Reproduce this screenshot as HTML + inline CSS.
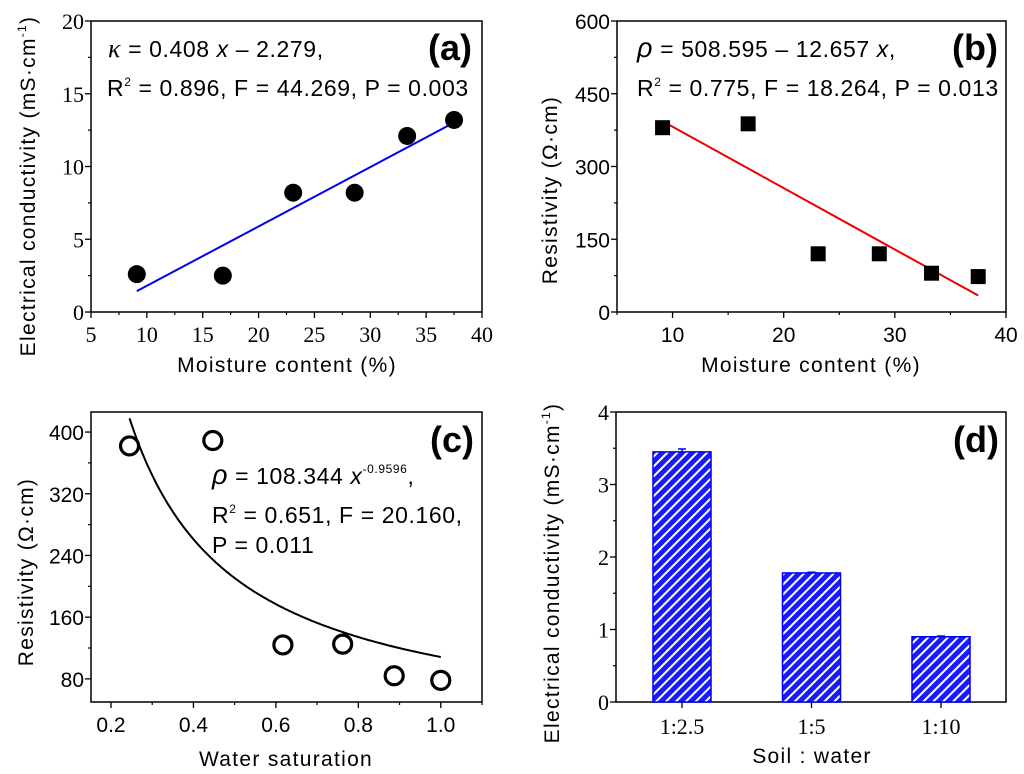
<!DOCTYPE html>
<html><head><meta charset="utf-8"><style>
body{margin:0;background:#fff;}
svg{display:block;}
text{font-family:"Liberation Sans",sans-serif;fill:#000;}
.tk{font-family:"Liberation Serif",serif;font-size:22px;}
.tks{font-family:"Liberation Sans",sans-serif;font-size:21px;}
.ttl{font-size:21px;letter-spacing:1.3px;}
.ann{font-size:23px;letter-spacing:0.6px;}
.lab{font-size:36px;font-weight:bold;}
</style></head><body>
<svg id="chart" width="1024" height="774" viewBox="0 0 1024 774" xmlns="http://www.w3.org/2000/svg">
<defs>
<pattern id="hatch" patternUnits="userSpaceOnUse" width="7" height="7" patternTransform="rotate(45)">
<rect width="7" height="7" fill="#1a1aff"/>
<rect x="0" y="0" width="2" height="7" fill="#fff"/>
</pattern>
</defs>
</svg>
<script>
// Panel (a)
const aMoisture = [9.1, 16.8, 23.1, 28.6, 33.3, 37.5];
const aConductivity = [2.6, 2.5, 8.2, 8.2, 12.1, 13.2];
const aSlope = 0.408, aIntercept = -2.279;
const aXTicks = [5,10,15,20,25,30,35,40];
const aYTicks = [0,5,10,15,20];
// Panel (b)
const bMoisture = [9.1, 16.8, 23.1, 28.6, 33.3, 37.5];
const bResistivity = [380, 388, 120, 120, 80, 73];
const bIntercept = 508.595, bSlope = -12.657;
const bXTicks = [10,20,30,40];
const bYTicks = [0,150,300,450,600];
// Panel (c)
const cSaturation = [0.245, 0.447, 0.617, 0.762, 0.887, 1.0];
const cResistivity = [382, 389, 124, 125, 84, 78];
const cCoef = 108.344, cExp = -0.9596;
const cXTicks = [0.2,0.4,0.6,0.8,1.0];
const cXTickLabels = ["0.2","0.4","0.6","0.8","1.0"];
const cYTicks = [80,160,240,320,400];
// Panel (d)
const dCategories = ["1:2.5","1:5","1:10"];
const dValues = [3.45, 1.78, 0.90];
const dErrors = [0.04, 0.01, 0.01];
const dYTicks = [0,1,2,3,4];

const svg = document.getElementById('chart');
const NS = 'http://www.w3.org/2000/svg';
function mk(tag, attrs, parent){const e=document.createElementNS(NS,tag);for(const k in attrs)e.setAttribute(k,attrs[k]);(parent||svg).appendChild(e);return e;}
function txt(s, attrs, parent){const e=mk('text',attrs,parent);e.innerHTML=s;return e;}
function lin(d0,d1,r0,r1){return v=>r0+(v-d0)/(d1-d0)*(r1-r0);}

function frame(g,L,T,R,B,X,Y,xt,yt,xMinor,yMinor,xlab,tkClass){
  const box=mk('rect',{x:L,y:T,width:R-L,height:B-T,fill:'none',stroke:'#000','stroke-width':1.5},g);
  
  
  xt.forEach((v,i)=>{const x=X(v);mk('line',{x1:x,x2:x,y1:B,y2:B+6,stroke:'#000','stroke-width':1.3},g);
    const t=txt(xlab?xlab[i]:String(v),{x:x,y:B+30,'text-anchor':'middle',class:tkClass},g);
    });
  xMinor.forEach(v=>{const x=X(v);mk('line',{x1:x,x2:x,y1:B,y2:B+3,stroke:'#000','stroke-width':1.2},g);});
  yt.forEach(v=>{const y=Y(v);mk('line',{x1:L-6,x2:L,y1:y,y2:y,stroke:'#000','stroke-width':1.3},g);
    const t=txt(String(v),{x:L-7,y:y+8,'text-anchor':'end',class:tkClass},g);
    });
  yMinor.forEach(v=>{const y=Y(v);mk('line',{x1:L-3,x2:L,y1:y,y2:y,stroke:'#000','stroke-width':1.2},g);});
}
function mids(a){const r=[];for(let i=0;i<a.length-1;i++)r.push((a[i]+a[i+1])/2);return r;}

// ---- (a)
{const g=mk('g',{});
const L=91,R=482,T=21,B=312;const X=lin(5,40,L,R),Y=lin(0,20,B,T);
frame(g,L,T,R,B,X,Y,aXTicks,aYTicks,mids(aXTicks),mids(aYTicks),null,'tk');
const x0=aMoisture[0],x1=aMoisture[aMoisture.length-1];
const fl=mk('line',{x1:X(x0),y1:Y(aSlope*x0+aIntercept),x2:X(x1),y2:Y(aSlope*x1+aIntercept),stroke:'#0000ee','stroke-width':2},g);

aMoisture.forEach((m,i)=>{const c=mk('circle',{cx:X(m),cy:Y(aConductivity[i]),r:9,fill:'#000'},g);
  });
let t=txt('<tspan font-style="italic" font-family="Liberation Serif" font-size="26">κ</tspan> = 0.408 <tspan font-style="italic">x</tspan> – 2.279,',{x:108,y:57,class:'ann'},g);
t=txt('R<tspan font-size="12" dy="-10">2</tspan><tspan dy="10"> = 0.896, F = 44.269, P = 0.003</tspan>',{x:107,y:96,class:'ann'},g);
t=txt('(a)',{x:428,y:60,class:'lab'},g);
t=txt('Moisture content (%)',{x:287,y:372,'text-anchor':'middle',class:'ttl'},g);
t=txt('Electrical conductivity (mS·cm<tspan font-size="12" dy="-9">-1</tspan><tspan dy="9">)</tspan>',{x:0,y:0,'text-anchor':'middle',class:'ttl',transform:'translate(35,186) rotate(-90)'},g);}

// ---- (b)
{const g=mk('g',{});
const L=617,R=1006,T=21,B=312;const X=lin(5,40,L,R),Y=lin(0,600,B,T);
frame(g,L,T,R,B,X,Y,bXTicks,bYTicks,[5,15,25,35],mids(bYTicks),null,'tks');
const x0=bMoisture[0],x1=bMoisture[bMoisture.length-1];
const fl=mk('line',{x1:X(x0),y1:Y(bIntercept+bSlope*x0),x2:X(x1),y2:Y(bIntercept+bSlope*x1),stroke:'#ee0000','stroke-width':2},g);

bMoisture.forEach((m,i)=>{const s=mk('rect',{x:X(m)-7.5,y:Y(bResistivity[i])-7.5,width:15,height:15,fill:'#000'},g);
  });
let t=txt('<tspan font-style="italic" font-size="27">ρ</tspan> = 508.595 – 12.657 <tspan font-style="italic">x</tspan>,',{x:637,y:57,class:'ann'},g);
t=txt('R<tspan font-size="12" dy="-10">2</tspan><tspan dy="10"> = 0.775, F = 18.264, P = 0.013</tspan>',{x:637,y:96,class:'ann'},g);
t=txt('(b)',{x:952,y:60,class:'lab'},g);
t=txt('Moisture content (%)',{x:811,y:372,'text-anchor':'middle',class:'ttl'},g);
t=txt('Resistivity (Ω·cm)',{x:0,y:0,'text-anchor':'middle',class:'ttl',transform:'translate(557,190) rotate(-90)'},g);}

// ---- (c)
{const g=mk('g',{});
const L=91,R=482,T=412,B=702;const X=lin(0.1515,1.1,L,R),Y=lin(50,426,B,T);
frame(g,L,T,R,B,X,Y,cXTicks,cYTicks,[0.3,0.5,0.7,0.9,1.1],[120,200,280,360],cXTickLabels,'tks');
let d='';for(let x=0.2;x<=1.0001;x+=0.005){const y=cCoef*Math.pow(x,cExp);if(y>426)continue;d+=(d?'L':'M')+X(x).toFixed(1)+','+Y(y).toFixed(1);}
const fl=mk('path',{d:d,fill:'none',stroke:'#000','stroke-width':2},g);
cSaturation.forEach((s,i)=>{const c=mk('circle',{cx:X(s),cy:Y(cResistivity[i]),r:9,fill:'none',stroke:'#000','stroke-width':3.2},g);
  });
let t=txt('<tspan font-style="italic" font-size="27">ρ</tspan> = 108.344 <tspan font-style="italic">x</tspan><tspan font-size="12" dy="-11">-0.9596</tspan><tspan dy="11">,</tspan>',{x:212,y:484,class:'ann'},g);
t=txt('R<tspan font-size="12" dy="-10">2</tspan><tspan dy="10"> = 0.651, F = 20.160,</tspan>',{x:212,y:523,class:'ann'},g);
t=txt('P = 0.011',{x:212,y:553,class:'ann'},g);
t=txt('(c)',{x:430,y:452,class:'lab'},g);
t=txt('Water saturation',{x:286,y:766,'text-anchor':'middle',class:'ttl'},g);
t=txt('Resistivity (Ω·cm)',{x:0,y:0,'text-anchor':'middle',class:'ttl',transform:'translate(33,572) rotate(-90)'},g);}

// ---- (d)
{const g=mk('g',{});
const L=616,R=1006,T=412,B=702;const Y=lin(0,4,B,T);
frame(g,L,T,R,B,v=>v,Y,[],dYTicks,[],[0.5,1.5,2.5,3.5],null,'tk');
dCategories.forEach((c,i)=>{const x=682+i*129.5;
  const b=mk('rect',{x:x-29,y:Y(dValues[i]),width:58,height:B-Y(dValues[i]),fill:'url(#hatch)',stroke:'#0000ee','stroke-width':1.5},g);
  
  mk('line',{x1:x,x2:x,y1:Y(dValues[i]+dErrors[i]),y2:Y(dValues[i]),stroke:'#0000ee','stroke-width':1.5},g);
  mk('line',{x1:x-4,x2:x+4,y1:Y(dValues[i]+dErrors[i]),y2:Y(dValues[i]+dErrors[i]),stroke:'#0000ee','stroke-width':1.5},g);
  mk('line',{x1:x,x2:x,y1:B,y2:B+6,stroke:'#000','stroke-width':1.3},g);
  const t=txt(c,{x:x,y:B+32,'text-anchor':'middle',class:'tk'},g);});
let t=txt('(d)',{x:953,y:452,class:'lab'},g);
t=txt('Soil : water',{x:812,y:763,'text-anchor':'middle',class:'ttl'},g);
t=txt('Electrical conductivity (mS·cm<tspan font-size="12" dy="-9">-1</tspan><tspan dy="9">)</tspan>',{x:0,y:0,'text-anchor':'middle',class:'ttl',transform:'translate(559,573) rotate(-90)'},g);}
</script>
</body></html>
